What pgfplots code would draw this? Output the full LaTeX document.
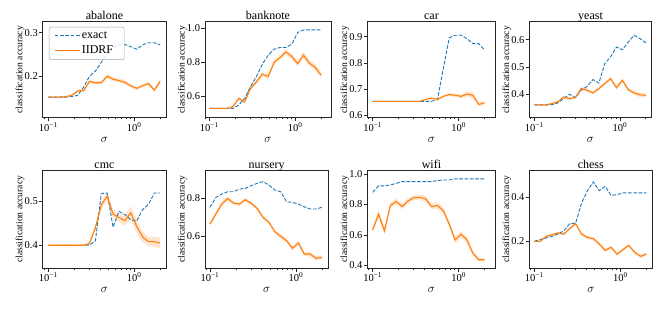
\documentclass[border=0pt]{standalone}
\usepackage{fontspec}
\setmainfont{Liberation Serif}
\usepackage{pgfplots}
\pgfplotsset{compat=1.18}
\usepackage{pgfplotstable}
\definecolor{tblue}{HTML}{1F77B4}
\definecolor{torange}{HTML}{FF7F0E}
\definecolor{spine}{HTML}{262626}

\pgfplotstableread{
x ex id e
0.1000 0.152 0.152 0.002
0.1171 0.152 0.152 0.002
0.1371 0.152 0.152 0.002
0.1605 0.152 0.153 0.002
0.1879 0.153 0.156 0.003
0.2200 0.156 0.166 0.004
0.2576 0.175 0.167 0.004
0.3016 0.200 0.188 0.004
0.3531 0.212 0.185 0.004
0.4134 0.232 0.185 0.004
0.4840 0.252 0.200 0.005
0.5667 0.266 0.193 0.005
0.6635 0.272 0.190 0.005
0.7768 0.273 0.186 0.005
0.9095 0.268 0.178 0.004
1.0648 0.262 0.172 0.004
1.2467 0.272 0.178 0.004
1.4597 0.277 0.183 0.004
1.7090 0.277 0.168 0.005
2.0000 0.272 0.188 0.004
}\tabAbalone

\pgfplotstableread{
x ex id e
0.1000 0.530 0.530 0.003
0.1171 0.530 0.530 0.003
0.1371 0.530 0.530 0.003
0.1605 0.530 0.530 0.003
0.1879 0.530 0.541 0.006
0.2200 0.550 0.588 0.010
0.2576 0.588 0.569 0.010
0.3016 0.659 0.647 0.012
0.3531 0.717 0.686 0.014
0.4134 0.789 0.731 0.014
0.4840 0.842 0.717 0.015
0.5667 0.877 0.800 0.015
0.6635 0.887 0.828 0.015
0.7768 0.887 0.861 0.015
0.9095 0.906 0.834 0.018
1.0648 0.975 0.793 0.018
1.2467 0.990 0.842 0.020
1.4597 0.990 0.795 0.018
1.7090 0.990 0.770 0.018
2.0000 0.990 0.725 0.020
}\tabBanknote

\pgfplotstableread{
x ex id e
0.1000 0.653 0.653 0.002
0.1171 0.653 0.653 0.002
0.1371 0.653 0.653 0.002
0.1605 0.653 0.653 0.002
0.1879 0.653 0.653 0.002
0.2200 0.653 0.653 0.002
0.2576 0.653 0.653 0.002
0.3016 0.653 0.653 0.002
0.3531 0.653 0.653 0.002
0.4134 0.653 0.660 0.003
0.4840 0.653 0.665 0.004
0.5667 0.660 0.660 0.004
0.6635 0.780 0.672 0.005
0.7768 0.896 0.679 0.006
0.9095 0.906 0.676 0.006
1.0648 0.906 0.672 0.008
1.2467 0.893 0.681 0.010
1.4597 0.874 0.676 0.012
1.7090 0.874 0.641 0.008
2.0000 0.849 0.647 0.006
}\tabCar

\pgfplotstableread{
x ex id e
0.1000 0.361 0.361 0.003
0.1171 0.361 0.361 0.003
0.1371 0.361 0.361 0.003
0.1605 0.362 0.366 0.004
0.1879 0.368 0.372 0.004
0.2200 0.384 0.390 0.005
0.2576 0.400 0.384 0.005
0.3016 0.388 0.388 0.005
0.3531 0.415 0.421 0.006
0.4134 0.429 0.415 0.006
0.4840 0.454 0.405 0.006
0.5667 0.441 0.421 0.006
0.6635 0.512 0.439 0.006
0.7768 0.537 0.457 0.007
0.9095 0.573 0.424 0.007
1.0648 0.563 0.451 0.007
1.2467 0.591 0.417 0.007
1.4597 0.616 0.405 0.008
1.7090 0.604 0.398 0.008
2.0000 0.588 0.396 0.008
}\tabYeast

\pgfplotstableread{
x ex id e
0.1000 0.400 0.400 0.002
0.1171 0.400 0.400 0.002
0.1371 0.400 0.400 0.002
0.1605 0.400 0.400 0.002
0.1879 0.400 0.400 0.002
0.2200 0.400 0.400 0.002
0.2576 0.400 0.400 0.002
0.3016 0.400 0.404 0.004
0.3531 0.410 0.440 0.008
0.4134 0.518 0.492 0.010
0.4840 0.519 0.512 0.010
0.5667 0.441 0.471 0.010
0.6635 0.477 0.463 0.010
0.7768 0.470 0.456 0.012
0.9095 0.458 0.474 0.015
1.0648 0.455 0.443 0.015
1.2467 0.481 0.419 0.012
1.4597 0.493 0.408 0.010
1.7090 0.519 0.408 0.012
2.0000 0.519 0.405 0.012
}\tabCmc

\pgfplotstableread{
x ex id e
0.1000 0.753 0.665 0.012
0.1171 0.805 0.718 0.012
0.1371 0.823 0.770 0.012
0.1605 0.835 0.800 0.012
0.1879 0.835 0.775 0.010
0.2200 0.849 0.770 0.010
0.2576 0.853 0.793 0.010
0.3016 0.867 0.774 0.010
0.3531 0.879 0.747 0.010
0.4134 0.889 0.700 0.010
0.4840 0.870 0.674 0.010
0.5667 0.844 0.625 0.010
0.6635 0.835 0.600 0.012
0.7768 0.782 0.577 0.012
0.9095 0.779 0.537 0.012
1.0648 0.770 0.565 0.012
1.2467 0.756 0.507 0.012
1.4597 0.744 0.507 0.012
1.7090 0.744 0.484 0.012
2.0000 0.753 0.489 0.012
}\tabNursery

\pgfplotstableread{
x ex id e
0.1000 0.880 0.633 0.020
0.1171 0.922 0.736 0.022
0.1371 0.922 0.626 0.022
0.1605 0.928 0.793 0.020
0.1879 0.939 0.819 0.018
0.2200 0.950 0.786 0.018
0.2576 0.950 0.823 0.018
0.3016 0.950 0.845 0.018
0.3531 0.950 0.847 0.018
0.4134 0.950 0.836 0.020
0.4840 0.950 0.786 0.020
0.5667 0.957 0.793 0.020
0.6635 0.961 0.758 0.020
0.7768 0.961 0.670 0.020
0.9095 0.968 0.567 0.022
1.0648 0.968 0.604 0.022
1.2467 0.968 0.567 0.022
1.4597 0.968 0.480 0.018
1.7090 0.968 0.436 0.012
2.0000 0.968 0.436 0.010
}\tabWifi

\pgfplotstableread{
x ex id e
0.1000 0.200 0.200 0.004
0.1171 0.208 0.200 0.004
0.1371 0.215 0.223 0.005
0.1605 0.223 0.230 0.006
0.1879 0.233 0.238 0.006
0.2200 0.248 0.233 0.006
0.2576 0.280 0.258 0.006
0.3016 0.283 0.280 0.006
0.3531 0.374 0.233 0.008
0.4134 0.430 0.218 0.008
0.4840 0.470 0.212 0.008
0.5667 0.430 0.188 0.008
0.6635 0.450 0.159 0.008
0.7768 0.409 0.173 0.008
0.9095 0.412 0.142 0.008
1.0648 0.420 0.162 0.008
1.2467 0.420 0.182 0.008
1.4597 0.420 0.150 0.008
1.7090 0.420 0.132 0.008
2.0000 0.420 0.142 0.008
}\tabChess

\pgfplotsset{legend image code/.code={\draw[#1] (0pt,0pt) -- (25pt,0pt);}}

\pgfplotsset{
  panel/.style={
    scale only axis, anchor=south west,
    axis line style={spine, line width=0.8pt},
    every tick/.style={spine, line width=0.7pt},
    tick align=outside, xtick pos=bottom, ytick pos=left,
    major tick length=3.7pt, minor tick length=2pt,
    xtick={0.1,1},
    xticklabels={10\textsuperscript{−1},10\textsuperscript{0}},
    minor xtick={0.09,0.2,0.3,0.4,0.5,0.6,0.7,0.8,0.9,2},
    /pgf/number format/assume math mode=true,
    yticklabel style={/pgf/number format/.cd, fixed, fixed zerofill, precision=1},
    tick label style={font=\fontsize{10.5}{10.5}\selectfont, inner sep=1pt},
    ylabel={classification accuracy},
    ylabel style={font=\fontsize{9.6}{9.6}\selectfont, at={(axis description cs:0,0.5)}, anchor=south, inner sep=0pt, yshift=18pt},
    xlabel={$\sigma$},
    xlabel style={font=\fontsize{12}{12}\selectfont, at={(axis description cs:0.5,0)}, anchor=base, inner sep=0pt, yshift=-25pt},
    every axis title shift=0pt,
    title style={font=\fontsize{12}{12}\selectfont, at={(axis description cs:0.5,1)}, anchor=base, inner sep=0pt, yshift=2.5pt},
    legend style={font=\fontsize{12}{12}\selectfont},
  },
  row1/.style={height=95.6pt},
  row2/.style={height=97.3pt},
}

\newcommand{\drawpanel}[1]{%
  \addplot[draw=none, forget plot, stack plots=y] table[x=x, y expr=\thisrow{id}-\thisrow{e}] {#1};
  \addplot[fill=torange, fill opacity=0.2, draw=none, forget plot, stack plots=y] table[x=x, y expr=2*\thisrow{e}] {#1} \closedcycle;
  \addplot[tblue, line width=0.9pt, dash pattern=on 3.7pt off 1.6pt, stack plots=false] table[x=x, y=ex] {#1};
  \addplot[torange, line width=1.1pt, stack plots=false] table[x=x, y=id] {#1};
}

\begin{document}
\begin{tikzpicture}
% row 1
\begin{axis}[xmode=log, panel, row1, at={(42.7pt,192.5pt)}, width=123.5pt,
  xmin=0.0861, xmax=2.349, ymin=0.105, ymax=0.325, ytick={0.2,0.3},
  title={abalone},
  legend style={at={(axis description cs:0.051,0.948)}, anchor=north west,
    draw=gray!70, rounded corners=2pt, fill=white, fill opacity=0.8, text opacity=1,
    inner xsep=5pt, inner ysep=3pt, row sep=3pt,
    nodes={inner sep=1.5pt, text width=36pt, align=left}},
  legend cell align=left]
  \drawpanel{\tabAbalone}
  \legend{exact,IIDRF}
\end{axis}
\begin{axis}[xmode=log, panel, row1, at={(205pt,192.5pt)}, width=125.9pt,
  xmin=0.0891, xmax=2.593, ymin=0.477, ymax=1.037, ytick={0.6,0.8,1.0},
  title={banknote}]
  \drawpanel{\tabBanknote}
\end{axis}
\begin{axis}[xmode=log, panel, row1, at={(367.3pt,192.5pt)}, width=128.3pt,
  xmin=0.0866, xmax=2.685, ymin=0.591, ymax=0.957, ytick={0.6,0.7,0.8,0.9},
  title={car}]
  \drawpanel{\tabCar}
\end{axis}
\begin{axis}[xmode=log, panel, row1, at={(529.3pt,192.5pt)}, width=122.4pt,
  xmin=0.0875, xmax=2.342, ymin=0.315, ymax=0.665, ytick={0.4,0.5,0.6},
  title={yeast}]
  \drawpanel{\tabYeast}
\end{axis}
% row 2
\begin{axis}[xmode=log, panel, row2, at={(42.7pt,42pt)}, width=123.5pt,
  xmin=0.0861, xmax=2.349, ymin=0.348, ymax=0.57, ytick={0.4,0.5},
  title={cmc}]
  \drawpanel{\tabCmc}
\end{axis}
\begin{axis}[xmode=log, panel, row2, at={(205pt,42pt)}, width=123.4pt,
  xmin=0.0875, xmax=2.380, ymin=0.433, ymax=0.946, ytick={0.6,0.8},
  title={nursery}]
  \drawpanel{\tabNursery}
\end{axis}
\begin{axis}[xmode=log, panel, row2, at={(367.3pt,42pt)}, width=128.3pt,
  xmin=0.0866, xmax=2.685, ymin=0.382, ymax=1.022, ytick={0.4,0.6,0.8,1.0},
  title={wifi}]
  \drawpanel{\tabWifi}
\end{axis}
\begin{axis}[xmode=log, panel, row2, at={(529.3pt,42pt)}, width=123pt,
  xmin=0.0875, xmax=2.337, ymin=0.079, ymax=0.521, ytick={0.2,0.4},
  title={chess}]
  \drawpanel{\tabChess}
\end{axis}
\pgfresetboundingbox
\path (0pt,0pt) rectangle (664pt,310pt);
\end{tikzpicture}
\end{document}
